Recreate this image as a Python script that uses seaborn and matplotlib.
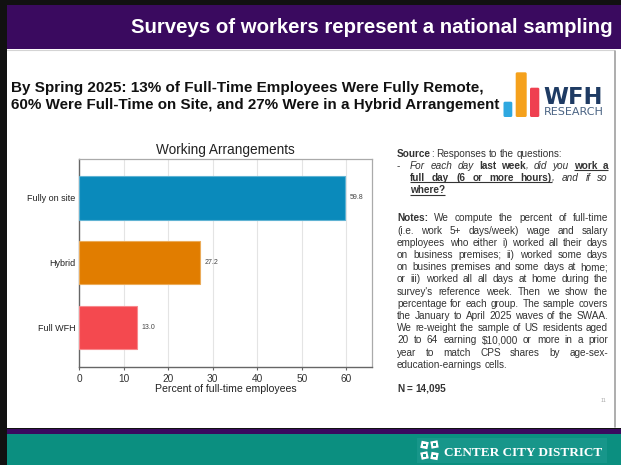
import matplotlib
matplotlib.use("Agg")
import matplotlib.pyplot as plt
import matplotlib.colors as mcolors
from matplotlib.patches import Rectangle, FancyBboxPatch
import numpy as np
import pandas as pd
import seaborn as sns

# ---- chart data -------------------------------------------------------------
categories = ["Fully on site", "Hybrid", "Full WFH"]
shares = [59.8, 27.2, 13.0]
bar_colors = ["#0a8abb", "#e17d00", "#f4494f"]
x_ticks = [0, 10, 20, 30, 40, 50, 60]

# ---- slide text -------------------------------------------------------------
header_title = "Surveys of workers represent a national sampling"
headline = ["By Spring 2025: 13% of Full-Time Employees Were Fully Remote,",
            "60% Were Full-Time on Site, and 27% Were in a Hybrid Arrangement"]
chart_title = "Working Arrangements"
x_label = "Percent of full-time employees"
sample_size = "N = 14,095"
page_number = "11"
footer_name = "CENTER CITY DISTRICT"

# markup: *bold*  |italic|  _underline_
source_lines = [
    "*Source*: Responses to the questions:",
    "|For each day| *last week*|, did you| *_work a_*",
    "*_full day (6 or more hours)_*|, and if so|",
    "*_where?_*",
]
notes_lines = [
    "*Notes:* We compute the percent of full-time",
    "(i.e. work 5+ days/week) wage and salary",
    "employees who either i) worked all their days",
    "on business premises; ii) worked some days",
    "on busines premises and some days at home;",
    "or iii) worked all all days at home during the",
    "survey's reference week. Then we show the",
    "percentage for each group. The sample covers",
    "the January to April 2025 waves of the SWAA.",
    "We re-weight the sample of US residents aged",
    "20 to 64 earning $10,000 or more in a prior",
    "year to match CPS shares by age-sex-",
    "education-earnings cells.",
]

W, H = 621, 465
PURPLE = "#3a0a5f"
TEAL = "#0b8f80"
BODY = "#333333"

sns.set_theme(style="white")
plt.rcParams["font.family"] = ["Liberation Sans", "DejaVu Sans"]

fig = plt.figure(figsize=(W / 100, H / 100), dpi=100)
fig.patch.set_facecolor("white")
renderer = fig.canvas.get_renderer()

# background layer in pixel coordinates (y grows downward)
bg = fig.add_axes([0, 0, 1, 1], zorder=0)
bg.set_xlim(0, W)
bg.set_ylim(H, 0)
bg.axis("off")


def rect(x, y, w, h, color, **kw):
    bg.add_patch(Rectangle((x, y), w, h, facecolor=color, edgecolor="none", **kw))


# frame, header band and footer band
rect(0, 0, W, 5.5, "#111111")
rect(7, 5.5, W - 7, 44, PURPLE)
bg.plot([7, 614], [50.5, 50.5], color="#d4d4d4", lw=0.8)
bg.plot([614.5, 614.5], [51, 427], color="#a0a0a0", lw=1.2)
rect(0, 427.5, W, 1.8, "#111111")
rect(0, 429.3, W, 4.7, PURPLE)
rect(0, 434, W, H - 434, TEAL)
rect(0, 0, 6.5, H, "#111111")


def fit_text(x, y, s, target_w, size=10, **kw):
    t = bg.text(x, y, s, fontsize=size, parse_math=False, **kw)
    w = t.get_window_extent(renderer=renderer).width
    t.set_fontsize(size * target_w / w)
    return t


# header title
fit_text(613, 27.5, header_title, 482, size=13, color="white",
         fontweight="bold", ha="right", va="center")

# headline
fit_text(11, 88, headline[0], 474, size=10.5, color="#111111",
         fontweight="bold", ha="left", va="center")
fit_text(11, 105, headline[1], 492, size=10.5, color="#111111",
         fontweight="bold", ha="left", va="center")

# WFH Research logo
for (x0, y0, x1, y1, c) in [(503.5, 101.7, 512.3, 117, "#2fa8e0"),
                             (515.7, 72.3, 526.7, 117, "#f5a11c"),
                             (530, 87.7, 539.3, 117, "#ef4050")]:
    bg.add_patch(FancyBboxPatch((x0, y0), x1 - x0, y1 - y0,
                                boxstyle="round,pad=0,rounding_size=1.5",
                                facecolor=c, edgecolor="none"))
bg.text(543.5, 103.5, "WFH", fontsize=16.3, color="#1f3b63",
        family="DejaVu Sans", fontweight="bold", ha="left", va="baseline")
bg.text(544, 115.3, "RESEARCH", fontsize=8, color="#4a6383",
        family="DejaVu Sans", ha="left", va="baseline")


# ---- rich text lines with optional justification --------------------------
def parse_words(markup):
    words, pieces = [], []
    state = {"*": False, "|": False, "_": False}
    buf = [""]

    def push():
        if buf[0]:
            pieces.append((buf[0], state["*"], state["|"], state["_"]))
            buf[0] = ""

    for ch in markup:
        if ch in state:
            push()
            state[ch] = not state[ch]
        elif ch == " ":
            push()
            if pieces:
                words.append(list(pieces))
                pieces.clear()
        else:
            buf[0] += ch
    push()
    if pieces:
        words.append(list(pieces))
    return words


def text_width(s, size, bold=False, italic=False):
    t = bg.text(0, 0, s, fontsize=size, fontweight="bold" if bold else "normal",
                fontstyle="italic" if italic else "normal", parse_math=False)
    w = t.get_window_extent(renderer=renderer).width
    t.remove()
    return w


def draw_line(x0, y, markup, width=None, size=7.2, color=BODY):
    words = parse_words(markup)
    items = []
    for w in words:
        arts = []
        for k, (s, b, it, u) in enumerate(w):
            a = bg.text(0, y, s, fontsize=size, color=color,
                        fontweight="bold" if b else "normal",
                        fontstyle="italic" if it else "normal",
                        ha="left", va="baseline", parse_math=False)
            wd = a.get_window_extent(renderer=renderer).width
            if k < len(w) - 1:
                # advance to the next piece, measured in this piece's font
                nxt = w[k + 1][0][0]
                wd = (text_width(s + nxt, size, b, it)
                      - text_width(nxt, size, b, it))
            arts.append((a, wd, u))
        items.append(arts)
    widths = [sum(p[1] for p in arts) for arts in items]
    space = text_width("a a", size) - text_width("aa", size)
    if width is not None and len(items) > 1:
        gap = (width - sum(widths)) / (len(items) - 1)
    else:
        gap = space
    x = x0
    segs = []
    for arts in items:
        for (a, wd, u) in arts:
            a.set_x(x)
            if u:
                if segs and abs(segs[-1][1] - x) < gap + 0.5:
                    segs[-1][1] = x + wd
                else:
                    segs.append([x, x + wd])
            x += wd
        x += gap
    for (a0, a1) in segs:
        bg.plot([a0, a1], [y + 1.6, y + 1.6], color=color, lw=0.8,
                solid_capstyle="butt")


TX0, TX1 = 397, 608
IND = 410
line_h = 12.2

draw_line(TX0, 156.5, source_lines[0])
bg.text(TX0, 156.5 + line_h, "-", fontsize=7.2, color=BODY, va="baseline")
draw_line(IND, 156.5 + line_h, source_lines[1], width=TX1 - IND)
draw_line(IND, 156.5 + 2 * line_h, source_lines[2], width=TX1 - IND)
draw_line(IND, 156.5 + 3 * line_h, source_lines[3])

for i, ln in enumerate(notes_lines):
    last = i == len(notes_lines) - 1
    draw_line(TX0, 221.3 + i * line_h, ln, width=None if last else TX1 - TX0)

draw_line(TX0, 391.5, "*" + sample_size + "*")
bg.text(606, 402, page_number, fontsize=4, color="#aaaaaa", ha="right",
        va="baseline")

# footer logo
rect(417, 438, 190, 25, "#17968a")
for (cx, cy, ang) in [(424.5, 445, 12), (434.5, 444.5, -10),
                      (424.5, 455.5, -12), (434.5, 456, 10)]:
    sq = Rectangle((cx - 3.6, cy - 3.6), 7.2, 7.2, facecolor="white",
                   edgecolor="none")
    tr = (matplotlib.transforms.Affine2D().rotate_deg_around(cx, cy, ang)
          + bg.transData)
    sq.set_transform(tr)
    bg.add_patch(sq)
    bg.add_patch(Rectangle((cx - 1.2, cy - 1.2), 2.4, 2.4, facecolor="#17968a",
                           edgecolor="none"))
fit_text(444, 452.5, footer_name, 159, size=9, color="white",
         family=["Liberation Serif", "DejaVu Serif"], fontweight="bold",
         ha="left", va="center")

# ---- bar chart ---------------------------------------------------------------
ax = fig.add_axes([79.3 / W, 1 - 366.7 / H, 292.7 / W, 207.7 / H], zorder=2)
df = pd.DataFrame({"arrangement": categories, "share": shares})
sns.barplot(data=df, x="share", y="arrangement", hue="arrangement",
            order=categories, hue_order=categories, palette=bar_colors,
            saturation=1, width=0.667, legend=False, ax=ax, zorder=3)

for patch in ax.patches:
    fc = np.array(mcolors.to_rgb(patch.get_facecolor()))
    patch.set_edgecolor(fc + (1 - fc) * 0.35)
    patch.set_linewidth(0.8)

for cont in ax.containers:
    ax.bar_label(cont, fmt="%.1f", padding=3, fontsize=5, color="#444444")

ax.set_xlim(0, 65.8)
ax.set_ylim(2.6, -0.6)
ax.set_xticks(x_ticks)
ax.grid(axis="x", color="#e4e4e4", lw=0.8, zorder=0)
ax.set_axisbelow(True)
ax.set_ylabel("")
ax.set_xlabel(x_label, fontsize=7.6, color="#222222", labelpad=0.5)
ax.set_title(chart_title, fontsize=9.8, color="#222222", pad=3.5)
ax.tick_params(axis="x", labelsize=7.3, labelcolor="#333333", length=2.5,
               width=0.8, color="#666666", pad=2.5, bottom=True)
ax.tick_params(axis="y", labelsize=6.5, labelcolor="#222222", length=0, pad=3)
for side in ["left", "bottom"]:
    ax.spines[side].set_color("#666666")
    ax.spines[side].set_linewidth(1.0)
for side in ["top", "right"]:
    ax.spines[side].set_color("#aaaaaa")
    ax.spines[side].set_linewidth(0.9)

fig.savefig("out.png", dpi=100, facecolor="white")
